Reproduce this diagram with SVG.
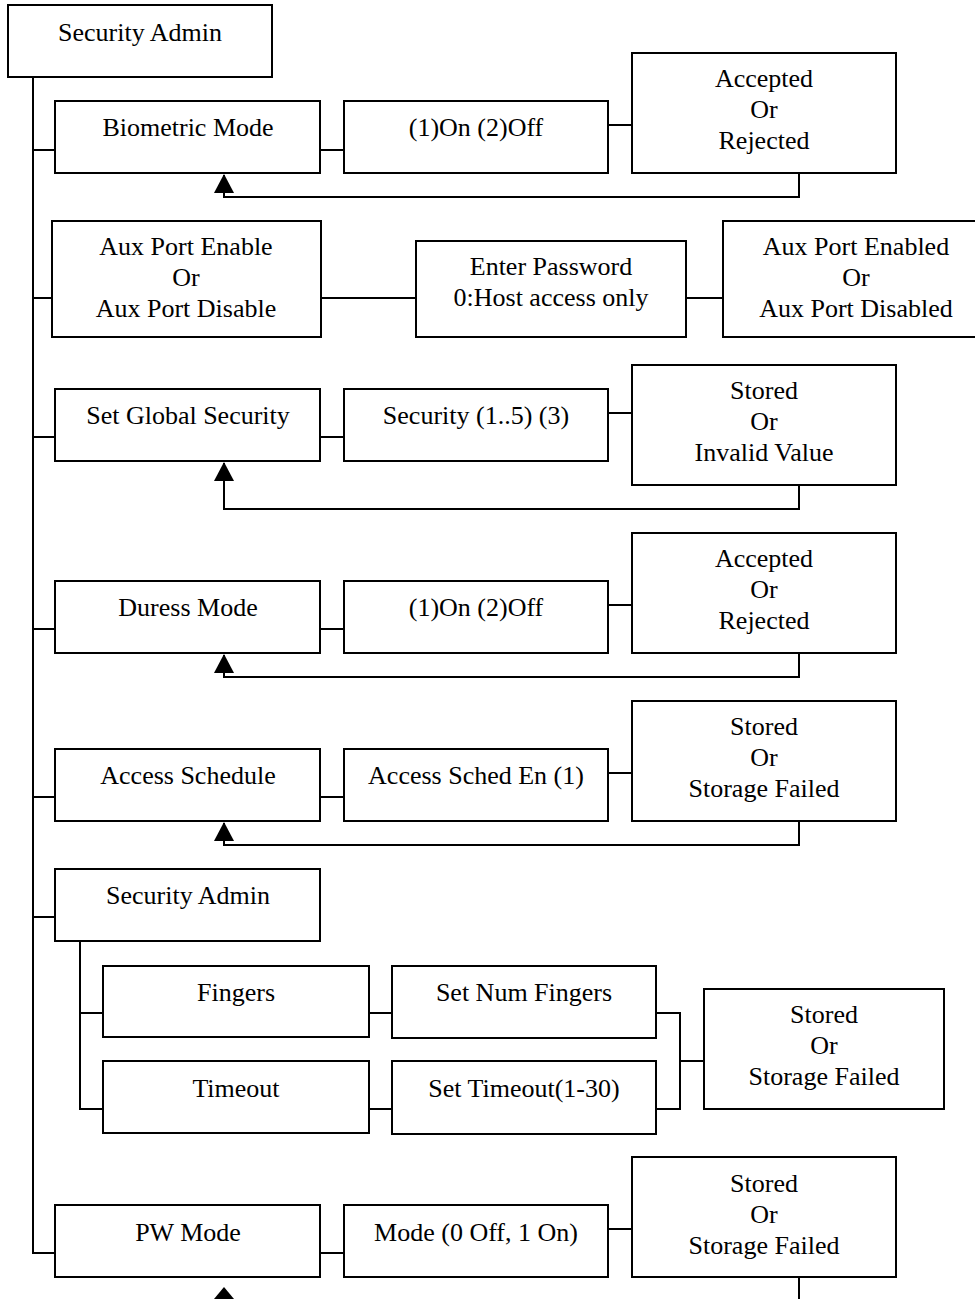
<svg xmlns="http://www.w3.org/2000/svg" width="975" height="1299" viewBox="0 0 975 1299">
  <style>
    .box { fill: #fff; stroke: #000; stroke-width: 2; }
    .ln { fill: none; stroke: #000; stroke-width: 2; }
    text { font-family: "Liberation Serif", "Times New Roman", serif; font-size: 26px; fill: #000; text-anchor: middle; }
  </style>
  <defs>
    <marker id="arrow" viewBox="0 0 20 20" refX="10" refY="0" markerWidth="20" markerHeight="20" markerUnits="userSpaceOnUse" orient="auto-start-reverse">
      <path d="M10,0 L0,19 L20,19 Z" fill="#000"/>
    </marker>
  </defs>

  <!-- connectors -->
  <g id="connectors">
    <!-- main trunk -->
    <path class="ln" d="M33,77 V1253 H55"/>
    <!-- biometric row -->
    <path class="ln" d="M33,150 H55 M320,150 H344 M608,125 H632"/>
    <path class="ln" d="M799,173 V197 H224 V175"/>
    <polygon points="224,174 214,193 234,193" fill="#000"/>
    <!-- aux port row -->
    <path class="ln" d="M33,298 H52 M321,298 H416 M686,298 H723"/>
    <!-- global security row -->
    <path class="ln" d="M33,437 H55 M320,437 H344 M608,413 H632"/>
    <path class="ln" d="M799,485 V509 H224 V463"/>
    <polygon points="224,462 214,481 234,481" fill="#000"/>
    <!-- duress row -->
    <path class="ln" d="M33,629 H55 M320,629 H344 M608,605 H632"/>
    <path class="ln" d="M799,653 V677 H224 V655"/>
    <polygon points="224,654 214,673 234,673" fill="#000"/>
    <!-- access schedule row -->
    <path class="ln" d="M33,797 H55 M320,797 H344 M608,773 H632"/>
    <path class="ln" d="M799,821 V845 H224 V823"/>
    <polygon points="224,822 214,841 234,841" fill="#000"/>
    <!-- security admin sub-tree -->
    <path class="ln" d="M33,917 H55 M80,941 V1109 H103 M80,1013 H103"/>
    <path class="ln" d="M369,1013 H392 M369,1109 H392"/>
    <path class="ln" d="M656,1013 H680 V1109 H656 M680,1061 H704"/>
    <!-- pw mode row -->
    <path class="ln" d="M320,1253 H344 M608,1229 H632"/>
    <path class="ln" d="M799,1277 V1299"/>
    <path class="ln" d="M224,1299 V1290"/>
    <polygon points="224,1287 214,1299 234,1299" fill="#000"/>
  </g>

  <g id="security-admin">
    <rect class="box" x="8" y="5" width="264" height="72"/>
    <text x="140" y="41">Security Admin</text>
  </g>

  <g id="biometric-mode">
    <rect class="box" x="55" y="101" width="265" height="72"/>
    <text x="188" y="136">Biometric Mode</text>
  </g>
  <g id="biometric-onoff">
    <rect class="box" x="344" y="101" width="264" height="72"/>
    <text x="476" y="136">(1)On (2)Off</text>
  </g>
  <g id="biometric-result">
    <rect class="box" x="632" y="53" width="264" height="120"/>
    <text x="764" y="87">Accepted</text>
    <text x="764" y="118">Or</text>
    <text x="764" y="149">Rejected</text>
  </g>

  <g id="aux-port">
    <rect class="box" x="52" y="221" width="269" height="116"/>
    <text x="186" y="255">Aux Port Enable</text>
    <text x="186" y="286">Or</text>
    <text x="186" y="317">Aux Port Disable</text>
  </g>
  <g id="aux-password">
    <rect class="box" x="416" y="241" width="270" height="96"/>
    <text x="551" y="275">Enter Password</text>
    <text x="551" y="306">0:Host access only</text>
  </g>
  <g id="aux-result">
    <rect class="box" x="723" y="221" width="256" height="116"/>
    <text x="856" y="255">Aux Port Enabled</text>
    <text x="856" y="286">Or</text>
    <text x="856" y="317">Aux Port Disabled</text>
  </g>

  <g id="global-security">
    <rect class="box" x="55" y="389" width="265" height="72"/>
    <text x="188" y="424">Set Global Security</text>
  </g>
  <g id="security-level">
    <rect class="box" x="344" y="389" width="264" height="72"/>
    <text x="476" y="424">Security (1..5) (3)</text>
  </g>
  <g id="security-result">
    <rect class="box" x="632" y="365" width="264" height="120"/>
    <text x="764" y="399">Stored</text>
    <text x="764" y="430">Or</text>
    <text x="764" y="461">Invalid Value</text>
  </g>

  <g id="duress-mode">
    <rect class="box" x="55" y="581" width="265" height="72"/>
    <text x="188" y="616">Duress Mode</text>
  </g>
  <g id="duress-onoff">
    <rect class="box" x="344" y="581" width="264" height="72"/>
    <text x="476" y="616">(1)On (2)Off</text>
  </g>
  <g id="duress-result">
    <rect class="box" x="632" y="533" width="264" height="120"/>
    <text x="764" y="567">Accepted</text>
    <text x="764" y="598">Or</text>
    <text x="764" y="629">Rejected</text>
  </g>

  <g id="access-schedule">
    <rect class="box" x="55" y="749" width="265" height="72"/>
    <text x="188" y="784">Access Schedule</text>
  </g>
  <g id="access-sched-en">
    <rect class="box" x="344" y="749" width="264" height="72"/>
    <text x="476" y="784">Access Sched En (1)</text>
  </g>
  <g id="access-result">
    <rect class="box" x="632" y="701" width="264" height="120"/>
    <text x="764" y="735">Stored</text>
    <text x="764" y="766">Or</text>
    <text x="764" y="797">Storage Failed</text>
  </g>

  <g id="security-admin-sub">
    <rect class="box" x="55" y="869" width="265" height="72"/>
    <text x="188" y="904">Security Admin</text>
  </g>
  <g id="fingers">
    <rect class="box" x="103" y="966" width="266" height="71"/>
    <text x="236" y="1001">Fingers</text>
  </g>
  <g id="set-num-fingers">
    <rect class="box" x="392" y="966" width="264" height="72"/>
    <text x="524" y="1001">Set Num Fingers</text>
  </g>
  <g id="timeout">
    <rect class="box" x="103" y="1061" width="266" height="72"/>
    <text x="236" y="1097">Timeout</text>
  </g>
  <g id="set-timeout">
    <rect class="box" x="392" y="1061" width="264" height="73"/>
    <text x="524" y="1097">Set Timeout(1-30)</text>
  </g>
  <g id="sub-result">
    <rect class="box" x="704" y="989" width="240" height="120"/>
    <text x="824" y="1023">Stored</text>
    <text x="824" y="1054">Or</text>
    <text x="824" y="1085">Storage Failed</text>
  </g>

  <g id="pw-mode">
    <rect class="box" x="55" y="1205" width="265" height="72"/>
    <text x="188" y="1241">PW Mode</text>
  </g>
  <g id="pw-mode-value">
    <rect class="box" x="344" y="1205" width="264" height="72"/>
    <text x="476" y="1241">Mode (0 Off, 1 On)</text>
  </g>
  <g id="pw-result">
    <rect class="box" x="632" y="1157" width="264" height="120"/>
    <text x="764" y="1192">Stored</text>
    <text x="764" y="1223">Or</text>
    <text x="764" y="1254">Storage Failed</text>
  </g>
</svg>
